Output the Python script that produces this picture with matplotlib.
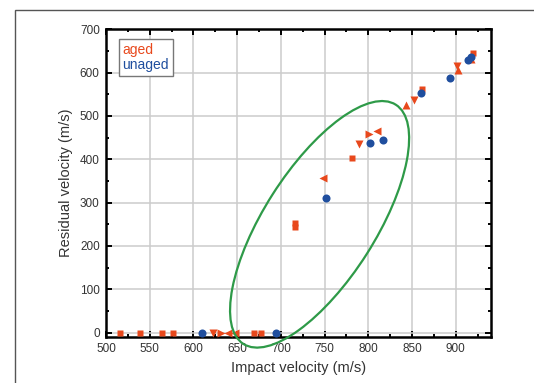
import numpy as np
import matplotlib
matplotlib.use('Agg')
import matplotlib.pyplot as plt
from matplotlib.patches import Ellipse, Rectangle
from matplotlib.lines import Line2D
from matplotlib.transforms import Affine2D

plt.rcParams['font.family'] = ['Liberation Sans', 'DejaVu Sans']

orange = '#e8481c'
blue = '#1f4e9e'

# aged samples, grouped by marker shape
aged_sq_v   = [516, 539, 564, 577, 669, 677, 716, 716, 781, 861, 920]
aged_sq_r   = [0, 0, 0, 0, 0, 0, 243, 253, 403, 562, 645]
aged_down_v = [622, 789, 852, 902]
aged_down_r = [0, 436, 537, 615]
aged_left_v = [640, 648, 748, 810]
aged_left_r = [0, 0, 357, 465]
aged_right_v = [631, 801]
aged_right_r = [0, 459]
aged_up_v   = [843, 903, 918]
aged_up_r   = [526, 606, 632]

# unaged samples
unaged_v = [610, 694, 752, 802, 817, 860, 893, 914, 918]
unaged_r = [0, 0, 311, 437, 445, 554, 587, 630, 637]

fig = plt.figure(figsize=(5.34, 3.83), dpi=100)
ax = fig.add_axes([106/534, 1-337/383, 384.7/534, 307.7/383])

# outer frame of the picture
fig.patches.append(Rectangle((15/534, -0.1), 1.0, 1.1-9.7/383, transform=fig.transFigure,
                             fill=False, edgecolor='#555555', linewidth=1.0))

ax.grid(True, color='#cccccc', linewidth=1.1)
ax.set_axisbelow(True)

ms = 6.3
ax.plot(aged_sq_v, aged_sq_r, 's', color=orange, ms=5, mec='none', zorder=3)
ax.plot(aged_down_v, aged_down_r, 'v', color=orange, ms=ms, mec='none', zorder=3)
ax.plot(aged_left_v, aged_left_r, '<', color=orange, ms=ms, mec='none', zorder=3)
ax.plot(aged_right_v, aged_right_r, '>', color=orange, ms=ms, mec='none', zorder=3)
ax.plot(aged_up_v, aged_up_r, '^', color=orange, ms=ms, mec='none', zorder=3)
ax.plot(unaged_v, unaged_r, 'o', color=blue, ms=5.8, mec='none', zorder=4)

# green ellipse (defined in pixel units around its centre)
el = Ellipse((0, 0), 2*141.8, 2*55.7, angle=57.5, fill=False,
             edgecolor='#2e9a48', linewidth=1.6, zorder=5, clip_on=False)
el.set_transform(Affine2D().scale(1/0.874, 1/0.4334).translate(744.3, 250) + ax.transData)
ax.add_patch(el)

ax.set_xlim(500, 940)
ax.set_ylim(-10, 700)
ax.set_xticks(np.arange(500, 901, 50))
ax.set_yticks(np.arange(0, 701, 100))
ax.set_xticks(np.arange(525, 940, 50), minor=True)
ax.set_yticks(np.arange(50, 700, 100), minor=True)
ax.tick_params(which='major', direction='in', length=4, width=1.4, top=True, right=True,
               labelsize=8.5, labelcolor='#333333', pad=4.5)
ax.tick_params(which='minor', direction='in', length=2.5, width=1.4, top=True, right=True)
for s in ax.spines.values():
    s.set_linewidth(1.8)

ax.set_xlabel('Impact velocity (m/s)', fontsize=10.5, color='#333333', labelpad=4)
ax.set_ylabel('Residual velocity (m/s)', fontsize=10.5, color='#333333', labelpad=5)

handles = [Line2D([], [], linestyle='none'), Line2D([], [], linestyle='none')]
leg = ax.legend(handles, ['aged', 'unaged'], loc='upper left', bbox_to_anchor=(0.034, 0.967),
                borderaxespad=0, handlelength=0, handletextpad=0, borderpad=0.25,
                labelspacing=0.1, fontsize=10, labelcolor=[orange, blue],
                fancybox=False, framealpha=1, edgecolor='#777777')
leg.get_frame().set_linewidth(1.0)

fig.savefig('out.png', dpi=100)
